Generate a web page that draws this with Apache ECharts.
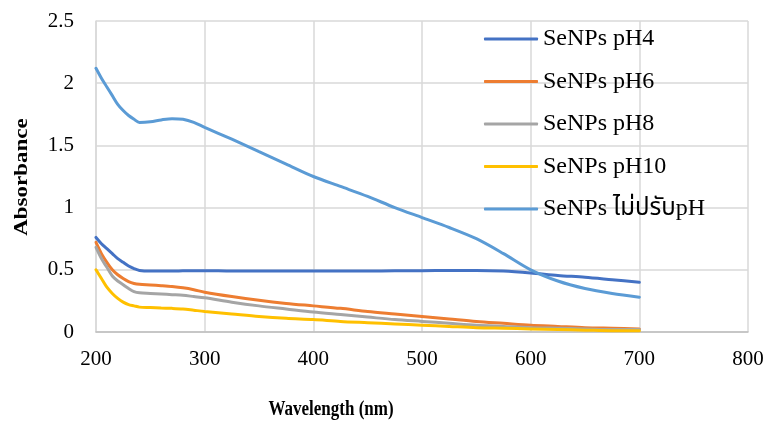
<!DOCTYPE html>
<html>
<head>
<meta charset="utf-8">
<script src="https://cdn.jsdelivr.net/npm/echarts@6/dist/echarts.min.js"></script>
<style>html,body{margin:0;padding:0;background:#fff}#c{width:769px;height:423px}</style>
</head>
<body>
<div id="c"></div>
<script>
const wavelengths = [200,205,210,215,220,225,230,235,240,250,260,270,280,290,300,325,350,375,400,425,450,475,500,525,550,575,600,625,650,675,700];
const seriesNames = ['SeNPs pH4','SeNPs pH6','SeNPs pH8','SeNPs pH10','SeNPs ไม่ปรับpH'];
const pH4  = [0.76,0.71,0.67,0.63,0.59,0.56,0.53,0.51,0.495,0.49,0.49,0.49,0.492,0.493,0.493,0.49,0.49,0.49,0.49,0.49,0.49,0.492,0.493,0.495,0.495,0.49,0.475,0.455,0.44,0.42,0.40];
const pH6  = [0.72,0.63,0.56,0.50,0.46,0.43,0.405,0.39,0.383,0.378,0.372,0.365,0.355,0.34,0.32,0.285,0.255,0.23,0.21,0.19,0.165,0.145,0.125,0.105,0.085,0.07,0.055,0.045,0.035,0.03,0.025];
const pH8  = [0.68,0.59,0.52,0.45,0.41,0.38,0.35,0.325,0.315,0.31,0.305,0.30,0.295,0.285,0.275,0.24,0.21,0.185,0.16,0.14,0.12,0.10,0.085,0.07,0.055,0.045,0.035,0.03,0.025,0.02,0.02];
const pH10 = [0.50,0.43,0.36,0.31,0.27,0.24,0.22,0.21,0.20,0.197,0.193,0.19,0.185,0.175,0.165,0.145,0.125,0.11,0.10,0.085,0.075,0.065,0.055,0.045,0.035,0.03,0.025,0.02,0.015,0.01,0.01];
const noPH = [2.12,2.04,1.97,1.90,1.83,1.78,1.74,1.71,1.685,1.69,1.705,1.715,1.71,1.685,1.645,1.55,1.45,1.35,1.25,1.17,1.09,1.00,0.92,0.84,0.75,0.63,0.50,0.41,0.35,0.31,0.28];
const xTicks = {min:200, max:800, interval:100};
const yTicks = {min:0, max:2.5, interval:0.5};

const colors = ['#4472C4','#ED7D31','#A5A5A5','#FFC000','#5B9BD5'];
const values = [pH4, pH6, pH8, pH10, noPH];
const serif = "'Liberation Serif','Times New Roman',serif";

const chart = echarts.init(document.getElementById('c'), null, {renderer:'canvas'});
chart.setOption({
  animation:false,
  grid:{left:96, right:21, top:21, bottom:91, containLabel:false},
  legend:{
    orient:'vertical', left:484, top:27, padding:0,
    icon:'roundRect', itemWidth:54, itemHeight:3, itemGap:18.5,
    data:seriesNames,
    textStyle:{fontFamily:serif + ",'Noto Sans Thai','DejaVu Sans'", fontSize:24, color:'#000', lineHeight:20}
  },
  xAxis:{
    type:'value', min:xTicks.min, max:xTicks.max, interval:xTicks.interval,
    axisLine:{show:true, onZero:false, lineStyle:{color:'#BFBFBF', width:1.5}},
    axisTick:{show:false},
    axisLabel:{fontFamily:serif, fontSize:21, color:'#000', margin:17},
    splitLine:{show:true, lineStyle:{color:'#D9D9D9', width:1.5}}
  },
  yAxis:{
    type:'value', min:yTicks.min, max:yTicks.max, interval:yTicks.interval,
    axisLine:{show:true, lineStyle:{color:'#D9D9D9', width:1.5}},
    axisTick:{show:false},
    axisLabel:{fontFamily:serif, fontSize:21, color:'#000', margin:22},
    splitLine:{show:true, lineStyle:{color:'#D9D9D9', width:1.5}}
  },
  graphic:[
    {type:'text', x:331, y:410, scaleX:0.85, style:{text:'Wavelength (nm)', font:"bold 20px " + serif, fill:'#000', align:'center', verticalAlign:'middle'}},
    {type:'text', x:22, y:177, rotation:Math.PI/2, scaleY:0.85, style:{text:'Absorbance', font:"bold 23px " + serif, fill:'#000', align:'center', verticalAlign:'middle'}}
  ],
  series: seriesNames.map((n,i)=>({
    name:n, type:'line', smooth:0.3, showSymbol:false, symbol:'none',
    lineStyle:{color:colors[i], width:3, cap:'round'},
    itemStyle:{color:colors[i]},
    data: wavelengths.map((w,k)=>[w, values[i][k]])
  }))
});
</script>
</body>
</html>
